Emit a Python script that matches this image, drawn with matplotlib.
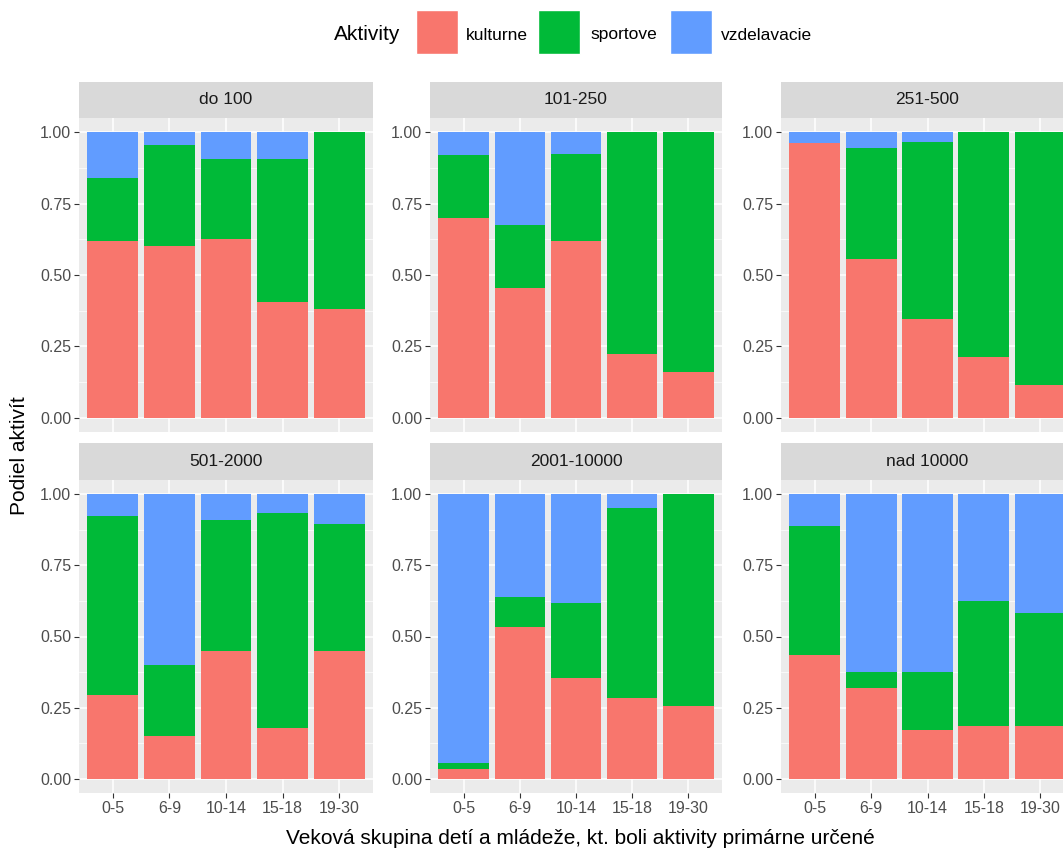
import matplotlib
matplotlib.use("Agg")
import matplotlib.pyplot as plt
from matplotlib.patches import Rectangle
from matplotlib.ticker import MultipleLocator

plt.rcParams['font.family'] = ['Liberation Sans', 'DejaVu Sans']

age_groups = ['0-5', '6-9', '10-14', '15-18', '19-30']
panels = ['do 100', '101-250', '251-500', '501-2000', '2001-10000', 'nad 10000']
activities = ['kulturne', 'sportove', 'vzdelavacie']
colors = ['#F8766D', '#00BA38', '#619CFF']

# shares per panel, one value per age group
kulturne = [
    [0.62, 0.60, 0.625, 0.405, 0.38],
    [0.70, 0.455, 0.62, 0.225, 0.16],
    [0.962, 0.557, 0.345, 0.212, 0.113],
    [0.295, 0.15, 0.45, 0.18, 0.45],
    [0.035, 0.532, 0.355, 0.284, 0.254],
    [0.434, 0.319, 0.170, 0.184, 0.184],
]
sportove = [
    [0.22, 0.355, 0.28, 0.50, 0.62],
    [0.22, 0.22, 0.305, 0.775, 0.84],
    [0.0, 0.389, 0.622, 0.788, 0.887],
    [0.63, 0.25, 0.46, 0.755, 0.445],
    [0.022, 0.106, 0.262, 0.668, 0.746],
    [0.453, 0.057, 0.206, 0.440, 0.398],
]
vzdelavacie = [
    [0.16, 0.045, 0.095, 0.095, 0.0],
    [0.08, 0.325, 0.075, 0.0, 0.0],
    [0.038, 0.054, 0.033, 0.0, 0.0],
    [0.075, 0.60, 0.09, 0.065, 0.105],
    [0.943, 0.362, 0.383, 0.048, 0.0],
    [0.113, 0.624, 0.624, 0.376, 0.418],
]

W, H = 1063, 852
fig = plt.figure(figsize=(W / 100, H / 100), dpi=100)
fig.patch.set_facecolor('white')

col_x = [(79, 373), (430, 722), (781, 1074)]
rows = [((82, 118), (118, 432)), ((443, 480), (480, 793))]


def fig_box(x0, x1, y0, y1):
    return [x0 / W, 1 - y1 / H, (x1 - x0) / W, (y1 - y0) / H]


for i, name in enumerate(panels):
    r, c = divmod(i, 3)
    (sy0, sy1), (py0, py1) = rows[r]
    x0, x1 = col_x[c]

    ax = fig.add_axes(fig_box(x0, x1, py0, py1))
    ax.set_facecolor('#EBEBEB')
    xs = range(len(age_groups))
    bottom = [0.0] * len(age_groups)
    for vals, col in zip([kulturne[i], sportove[i], vzdelavacie[i]], colors):
        ax.bar(xs, vals, width=0.9, bottom=bottom, color=col, zorder=3)
        bottom = [b + v for b, v in zip(bottom, vals)]
    ax.set_xlim(-0.6, len(age_groups) - 0.4)
    ax.set_ylim(-0.05, 1.05)
    ax.yaxis.set_minor_locator(MultipleLocator(0.125))
    ax.set_yticks([0, 0.25, 0.5, 0.75, 1.0])
    ax.set_yticklabels(['0.00', '0.25', '0.50', '0.75', '1.00'])
    ax.set_xticks(list(xs))
    ax.grid(True, which='major', color='white', linewidth=1.1, zorder=0)
    ax.grid(True, which='minor', axis='y', color='white', linewidth=0.5, zorder=0)
    for s in ax.spines.values():
        s.set_visible(False)
    ax.tick_params(axis='both', which='major', length=3.5, color='#333333',
                   labelsize=11.5, labelcolor='#4D4D4D', pad=2)
    ax.tick_params(axis='y', which='minor', length=0)
    if r == 1:
        ax.set_xticklabels(age_groups)
    else:
        ax.tick_params(axis='x', length=0, labelbottom=False)

    sax = fig.add_axes(fig_box(x0, x1, sy0, sy1))
    sax.set_facecolor('#D9D9D9')
    sax.set_xticks([])
    sax.set_yticks([])
    for s in sax.spines.values():
        s.set_visible(False)
    sax.text(0.5, 0.5, name, ha='center', va='center', fontsize=12.5,
             color='#1A1A1A', transform=sax.transAxes)

fig.text(20 / W, 1 - 456 / H, 'Podiel aktivít', rotation=90, ha='center',
         va='center', fontsize=15)
fig.text(580 / W, 1 - 838 / H,
         'Veková skupina detí a mládeže, kt. boli aktivity primárne určené',
         ha='center', va='center', fontsize=15)

# legend
fig.text(367 / W, 1 - 35 / H, 'Aktivity', ha='center', va='center', fontsize=15)
key_x = [416, 538, 670]
lab_x = [466, 590, 721]
for kx, lx, col, lab in zip(key_x, lab_x, colors, activities):
    fig.add_artist(Rectangle((kx / W, 1 - 54 / H), 42 / W, 44 / H,
                             transform=fig.transFigure, facecolor=col,
                             edgecolor='white', linewidth=1))
    fig.text(lx / W, 1 - 35 / H, lab, ha='left', va='center', fontsize=12.5)

fig.savefig('out.png', dpi=100)
